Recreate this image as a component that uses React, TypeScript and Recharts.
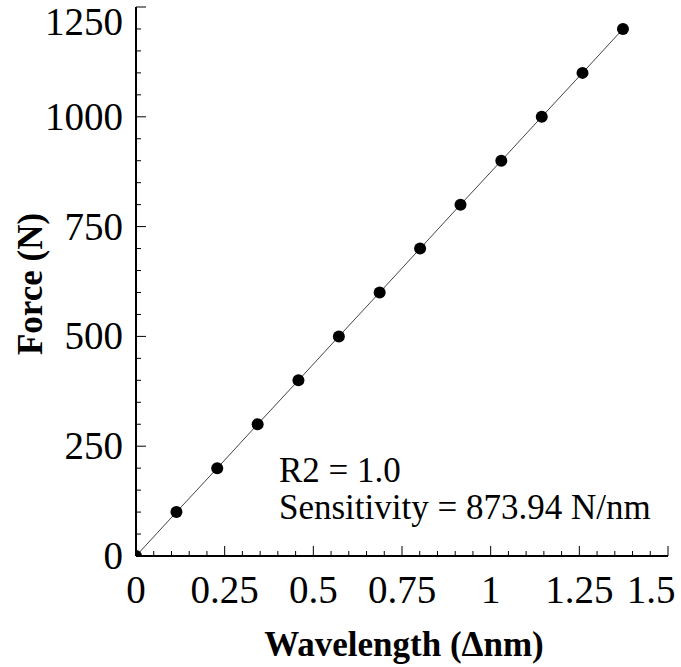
import { LineChart, Line, XAxis, YAxis } from "recharts"

// force steps applied (N) and the measured wavelength shift (nm)
const forceN = [0, 100, 200, 300, 400, 500, 600, 700, 800, 900, 1000, 1100, 1200]
const wavelengthShift = [0, 0.114, 0.229, 0.343, 0.458, 0.572, 0.687, 0.801, 0.915, 1.03, 1.144, 1.259, 1.373]

const xMajorTicks = [0, 0.25, 0.5, 0.75, 1, 1.25, 1.5]
const xTickLabels = ["0", "0.25", "0.5", "0.75", "1", "1.25", "1.5"]
const xMinorTicks = [
  0.05, 0.1, 0.15, 0.2, 0.3, 0.35, 0.4, 0.45, 0.55, 0.6, 0.65, 0.7, 0.8, 0.85, 0.9, 0.95,
  1.05, 1.1, 1.15, 1.2, 1.3, 1.35, 1.4, 1.45,
]
const yMajorTicks = [0, 250, 500, 750, 1000, 1250]
const yTickLabels = ["0", "250", "500", "750", "1000", "1250"]
const yMinorTicks = [
  50, 100, 150, 200, 300, 350, 400, 450, 550, 600, 650, 700, 800, 850, 900, 950, 1050, 1100, 1150, 1200,
]

const data = wavelengthShift.map((w, i) => ({ w, force: forceN[i] }))
const xTicks = [...xMajorTicks, ...xMinorTicks].sort((a, b) => a - b)
const yTicks = [...yMajorTicks, ...yMinorTicks].sort((a, b) => a - b)

const FONT = "'Liberation Serif', 'Times New Roman', serif"
const TICK_FONT = 39

const serif = (size: number, bold = false) => ({
  fontFamily: FONT,
  fontSize: size,
  fontWeight: bold ? 700 : 400,
  fill: "#000",
})

function tickLen(major: boolean) {
  return major ? 10 : 5
}

function BottomTick(props: any) {
  const { x, y, payload } = props
  const i = xMajorTicks.indexOf(payload.value)
  const last = i === xMajorTicks.length - 1
  return (
    <g>
      <line x1={x} y1={y} x2={x} y2={y - tickLen(i >= 0)} stroke="#000" strokeWidth={1} />
      {i >= 0 && (
        <text x={last ? x - 17 : x} y={y + 47} textAnchor="middle" style={serif(TICK_FONT)}>
          {xTickLabels[i]}
        </text>
      )}
    </g>
  )
}

function TopTick(props: any) {
  const { x, y, payload } = props
  const major = xMajorTicks.includes(payload.value)
  return <line x1={x} y1={y} x2={x} y2={y + tickLen(major)} stroke="#000" strokeWidth={1} />
}

function LeftTick(props: any) {
  const { x, y, payload } = props
  const i = yMajorTicks.indexOf(payload.value)
  const top = i === yMajorTicks.length - 1
  return (
    <g>
      <line x1={x} y1={y} x2={x + tickLen(i >= 0)} y2={y} stroke="#000" strokeWidth={1} />
      {i >= 0 && (
        <text x={x - 13} y={y + (top ? 28 : 13)} textAnchor="end" style={serif(TICK_FONT)}>
          {yTickLabels[i]}
        </text>
      )}
    </g>
  )
}

function RightTick(props: any) {
  const { x, y, payload } = props
  const major = yMajorTicks.includes(payload.value)
  return <line x1={x} y1={y} x2={x - tickLen(major)} y2={y} stroke="#000" strokeWidth={1} />
}

export default function App() {
  return (
    <div style={{ position: "absolute", left: 0, top: 0, background: "#fff", fontFamily: FONT }}>
      <LineChart width={681} height={667} data={data} margin={{ top: 7, right: 13, left: 0, bottom: 0 }}>
        <XAxis
          xAxisId="x"
          dataKey="w"
          type="number"
          domain={[0, 1.5]}
          ticks={xTicks}
          interval={0}
          allowDataOverflow
          height={111}
          tickSize={0}
          tickMargin={0}
          tickLine={false}
          tick={<BottomTick />}
          axisLine={{ stroke: "#000", strokeWidth: 2 }}
        />
        <XAxis
          xAxisId="top"
          orientation="top"
          type="number"
          domain={[0, 1.5]}
          ticks={xTicks}
          interval={0}
          height={0}
          tickSize={0}
          tickMargin={0}
          tickLine={false}
          tick={<TopTick />}
          axisLine={{ stroke: "#000", strokeWidth: 2 }}
        />
        <YAxis
          yAxisId="y"
          type="number"
          domain={[0, 1250]}
          ticks={yTicks}
          interval={0}
          allowDataOverflow
          width={136}
          tickSize={0}
          tickMargin={0}
          tickLine={false}
          tick={<LeftTick />}
          axisLine={{ stroke: "#000", strokeWidth: 2 }}
        />
        <YAxis
          yAxisId="right"
          orientation="right"
          type="number"
          domain={[0, 1250]}
          ticks={yTicks}
          interval={0}
          width={0}
          tickSize={0}
          tickMargin={0}
          tickLine={false}
          tick={<RightTick />}
          axisLine={{ stroke: "#000", strokeWidth: 2 }}
        />
        <Line
          xAxisId="x"
          yAxisId="y"
          dataKey="force"
          type="linear"
          stroke="#444"
          strokeWidth={1}
          dot={{ r: 6, fill: "#000", stroke: "#000", strokeWidth: 0 }}
          activeDot={false}
          isAnimationActive={false}
        />
        <g>
          <text x={279} y={482} style={serif(35)}>
            R2 = 1.0
          </text>
          <text x={279} y={519} style={serif(35)}>
            Sensitivity = 873.94 N/nm
          </text>
          <text x={404} y={656} textAnchor="middle" style={serif(35, true)}>
            Wavelength (Δnm)
          </text>
          <text transform="translate(42, 284) rotate(-90)" textAnchor="middle" style={serif(35, true)}>
            Force (N)
          </text>
        </g>
      </LineChart>
    </div>
  )
}
